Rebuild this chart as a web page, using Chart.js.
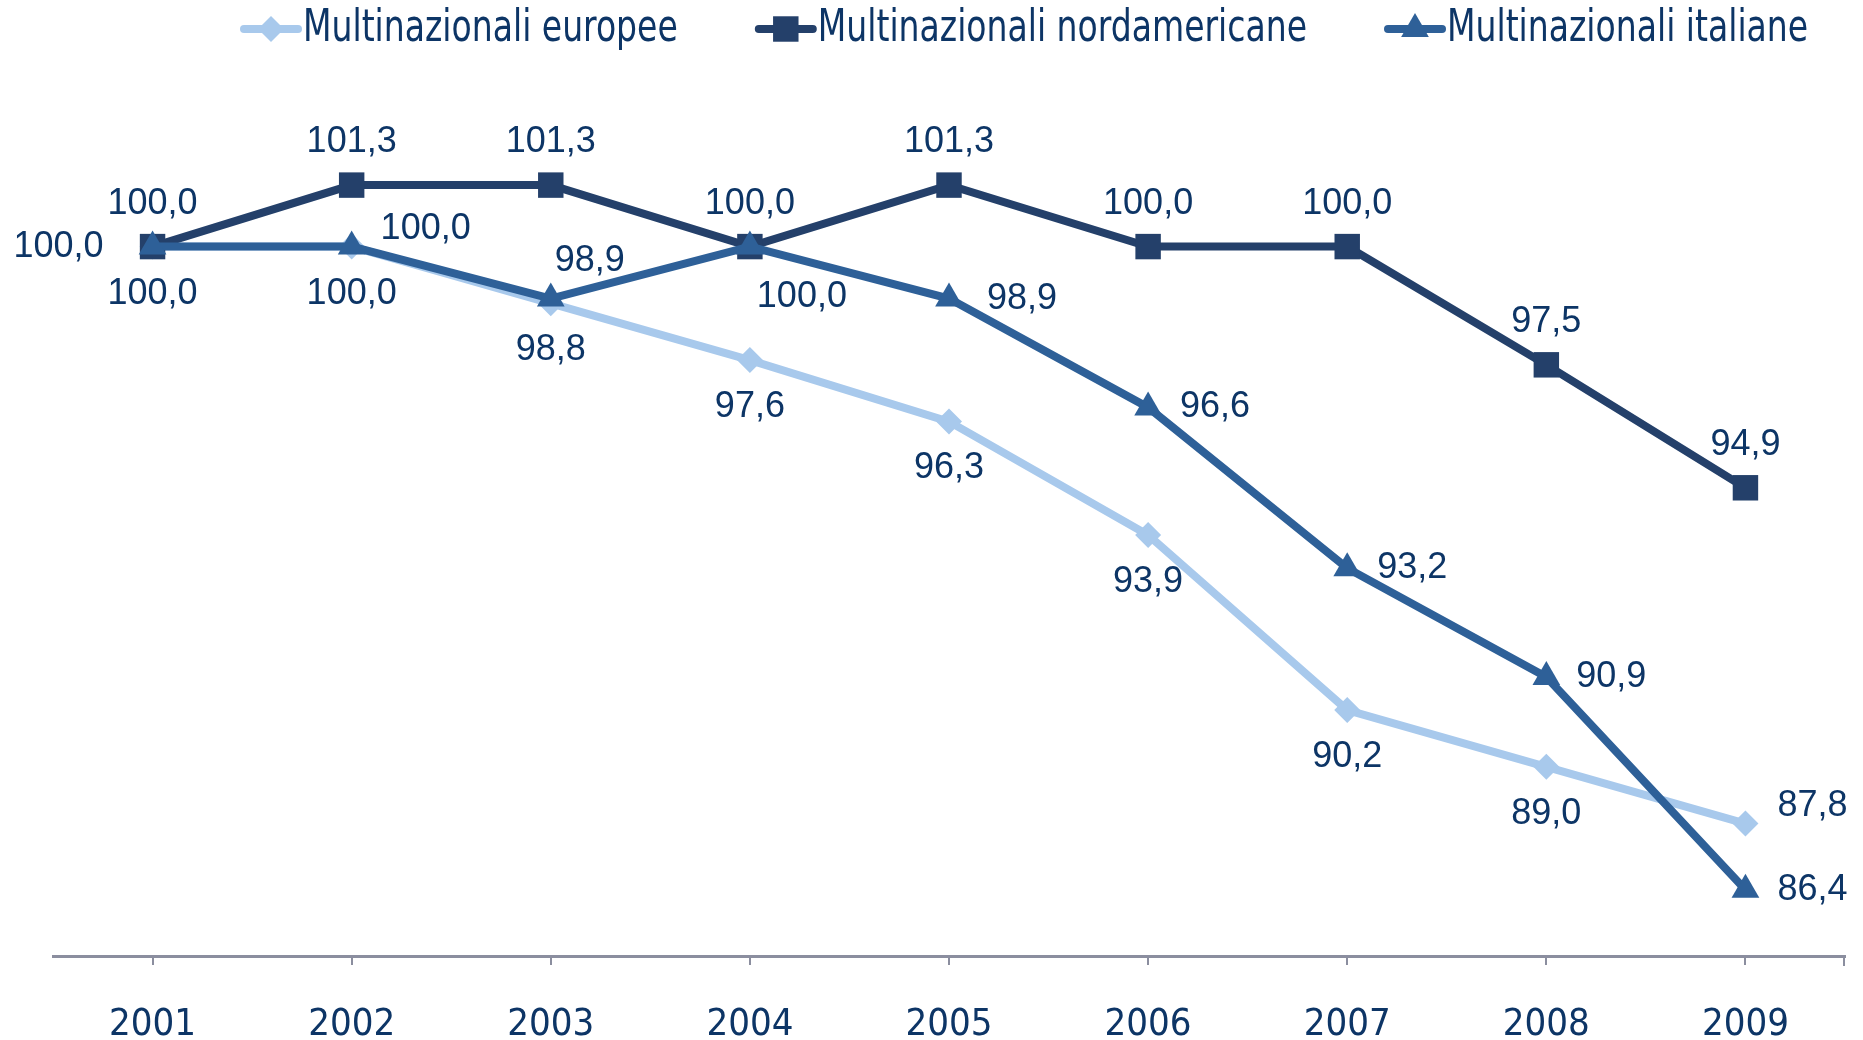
<!DOCTYPE html>
<html>
<head>
<meta charset="utf-8">
<script src="https://cdn.jsdelivr.net/npm/chart.js@4/dist/chart.umd.min.js"></script>
<style>
  html, body { margin: 0; padding: 0; background: #fff; }
  #wrap { width: 1863px; height: 1040px; }
</style>
</head>
<body>
<div id="wrap"><canvas id="myChart"></canvas></div>
<script>
// dati
var years = ['2001', '2002', '2003', '2004', '2005', '2006', '2007', '2008', '2009'];
var seriesNames = ['Multinazionali europee', 'Multinazionali nordamericane', 'Multinazionali italiane'];
var europee = [100.0, 100.0, 98.8, 97.6, 96.3, 93.9, 90.2, 89.0, 87.8];
var nordamericane = [100.0, 101.3, 101.3, 100.0, 101.3, 100.0, 100.0, 97.5, 94.9];
var italiane = [100.0, 100.0, 98.9, 100.0, 98.9, 96.6, 93.2, 90.9, 86.4];

var textColor = '#0D3566';
var axisColor = '#8B8E9F';
var narrowFont = "'Liberation Sans Narrow', 'DejaVu Sans Condensed', 'Arial Narrow', sans-serif";
var labelFont = "36px 'Liberation Sans', Arial, sans-serif";

// spostamento delle etichette rispetto al punto (px)
var labelOffsets = [
  [[0, 47], [0, 47], [0, 47], [0, 47], [0, 47], [0, 47], [0, 47], [0, 47], [67, -17]],
  [[0, -43], [0, -43], [0, -43], [0, -43], [0, -43], [0, -43], [0, -43], [0, -43], [0, -43]],
  [[-94, 0], [74, -18], [39, -38], [52, 50], [73, 0], [67, 0], [65, 0], [65, 0], [67, 0]]
];

function fmt(v) {
  return v.toFixed(1).replace('.', ',');
}

// disegna un marcatore per la legenda
function drawMarker(ctx, style, r, x, y) {
  ctx.beginPath();
  if (style === 'rect') {
    var s = r * Math.SQRT1_2;
    ctx.rect(x - s, y - s, 2 * s, 2 * s);
  } else if (style === 'rectRot') {
    ctx.moveTo(x, y - r); ctx.lineTo(x + r, y); ctx.lineTo(x, y + r); ctx.lineTo(x - r, y);
    ctx.closePath();
  } else {
    ctx.moveTo(x, y - r);
    ctx.lineTo(x + r * Math.sin(Math.PI * 2 / 3), y - r * Math.cos(Math.PI * 2 / 3));
    ctx.lineTo(x - r * Math.sin(Math.PI * 2 / 3), y - r * Math.cos(Math.PI * 2 / 3));
    ctx.closePath();
  }
  ctx.fill();
}

var valueLabels = {
  id: 'valueLabels',
  afterDatasetsDraw: function(chart) {
    var ctx = chart.ctx;
    ctx.save();
    ctx.font = labelFont;
    ctx.fillStyle = textColor;
    ctx.textAlign = 'center';
    ctx.textBaseline = 'middle';
    chart.data.datasets.forEach(function(ds, i) {
      var meta = chart.getDatasetMeta(i);
      meta.data.forEach(function(pt, j) {
        var off = labelOffsets[i][j];
        ctx.fillText(fmt(ds.data[j]), pt.x + off[0], pt.y + off[1]);
      });
    });
    ctx.restore();
  }
};

var legendRow = {
  id: 'legendRow',
  afterDraw: function(chart) {
    var ctx = chart.ctx;
    var x = 240, y = 29;
    var squeeze = 0.835;
    ctx.save();
    // tacca finale dell'asse x
    var area = chart.chartArea;
    ctx.strokeStyle = axisColor;
    ctx.lineWidth = 2;
    ctx.beginPath();
    ctx.moveTo(area.right - 1, area.bottom);
    ctx.lineTo(area.right - 1, area.bottom + 10);
    ctx.stroke();

    ctx.font = '44px ' + narrowFont;
    ctx.textBaseline = 'middle';
    ctx.textAlign = 'left';
    chart.data.datasets.forEach(function(ds) {
      ctx.strokeStyle = ds.borderColor;
      ctx.fillStyle = ds.borderColor;
      ctx.lineWidth = 8;
      ctx.lineCap = 'round';
      ctx.beginPath();
      ctx.moveTo(x + 4, y);
      ctx.lineTo(x + 58, y);
      ctx.stroke();
      drawMarker(ctx, ds.pointStyle, ds.pointRadius, x + 31, y);
      ctx.fillStyle = textColor;
      ctx.save();
      ctx.translate(x + 63, y + 1);
      ctx.scale(squeeze, 1);
      ctx.fillText(ds.label, 0, 0);
      ctx.restore();
      x = x + 63 + ctx.measureText(ds.label).width * squeeze + 77;
    });
    ctx.restore();
  }
};

var ctx = document.getElementById('myChart').getContext('2d');
var myChart = new Chart(ctx, {
  type: 'line',
  data: {
    labels: years,
    datasets: [
      { label: seriesNames[0], data: europee, borderColor: '#A8C9EC', backgroundColor: '#A8C9EC',
        borderWidth: 8, pointStyle: 'rectRot', pointRadius: 13, pointBorderWidth: 0, order: 3, clip: false },
      { label: seriesNames[1], data: nordamericane, borderColor: '#24406A', backgroundColor: '#24406A',
        borderWidth: 8, pointStyle: 'rect', pointRadius: 18, pointBorderWidth: 0, order: 2, clip: false },
      { label: seriesNames[2], data: italiane, borderColor: '#2E6098', backgroundColor: '#2E6098',
        borderWidth: 8, pointStyle: 'triangle', pointRadius: 16, pointBorderWidth: 0, order: 1, clip: false }
    ]
  },
  options: {
    responsive: true,
    maintainAspectRatio: false,
    animation: false,
    layout: { padding: { top: 152, left: 53, right: 11, bottom: 0 } },
    plugins: {
      legend: { display: false },
      tooltip: { enabled: false }
    },
    scales: {
      x: {
        offset: true,
        grid: { drawOnChartArea: false, drawTicks: true, tickLength: 9, color: axisColor, lineWidth: 2, offset: false },
        border: { display: true, color: axisColor, width: 3 },
        ticks: { color: textColor, font: { size: 38, family: narrowFont }, padding: 37 },
        afterFit: function(scale) { scale.height = 84; }
      },
      y: {
        display: false,
        min: 85,
        max: 102
      }
    }
  },
  plugins: [valueLabels, legendRow]
});
</script>
</body>
</html>
